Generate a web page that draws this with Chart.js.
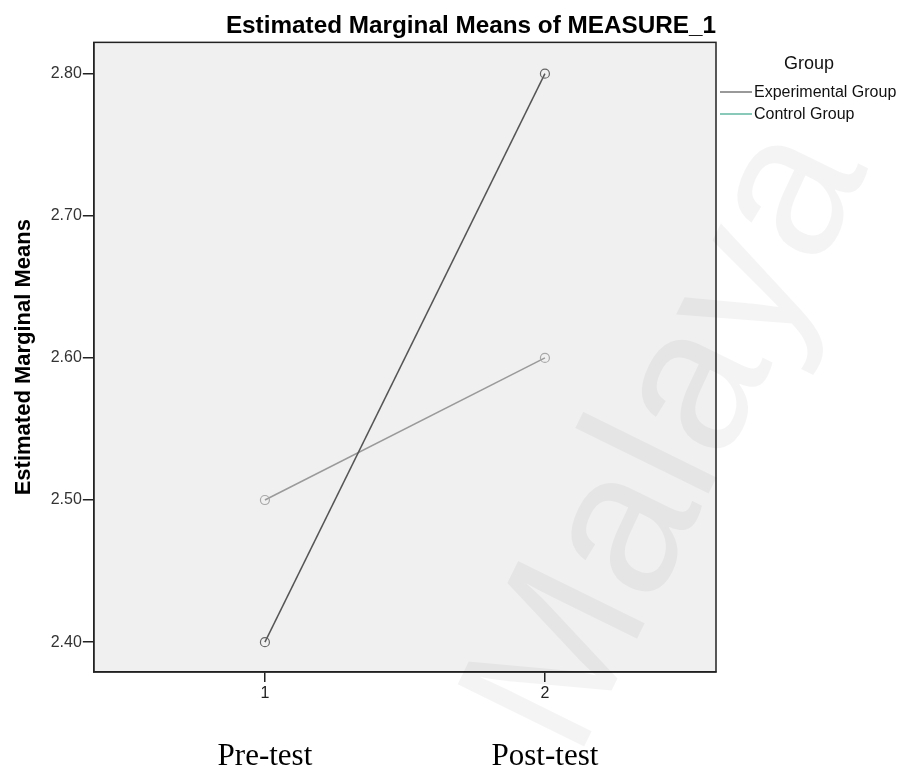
<!DOCTYPE html>
<html>
<head>
<meta charset="utf-8">
<script src="https://cdn.jsdelivr.net/npm/chart.js@4.4.1/dist/chart.umd.min.js"></script>
<style>
  html, body { margin: 0; padding: 0; background: #ffffff; }
  #c { display: block; }
</style>
</head>
<body>
<canvas id="c" width="905" height="774"></canvas>
<script>
// ---- data ----
const categories = [1, 2];
const xTickLabels = ['1', '2'];
const phaseLabels = ['Pre-test', 'Post-test'];
const yTicks = [2.40, 2.50, 2.60, 2.70, 2.80];
const seriesNames = ['Experimental Group', 'Control Group'];
const experimental = [2.40, 2.80];
const control = [2.50, 2.60];
const chartTitle = 'Estimated Marginal Means of MEASURE_1';
const yAxisTitle = 'Estimated Marginal Means';
const legendTitle = 'Group';
const watermark = 'Malaya';

const legendColors = ['#555555', '#3aa58a'];

const frame = {
  id: 'frame',
  beforeDraw(chart) {
    const { ctx, chartArea: a } = chart;
    ctx.save();
    ctx.fillStyle = '#ffffff';
    ctx.fillRect(0, 0, chart.width, chart.height);
    ctx.fillStyle = '#f0f0f0';
    ctx.fillRect(a.left, a.top, a.right - a.left, a.bottom - a.top);
    ctx.restore();
  },
  afterDraw(chart) {
    const { ctx, chartArea: a } = chart;
    ctx.save();
    ctx.strokeStyle = '#222';
    ctx.lineWidth = 1.5;
    ctx.strokeRect(a.left, a.top, a.right - a.left, a.bottom - a.top);
    // legend
    const lx = a.right + 4;
    ctx.fillStyle = '#111';
    ctx.textBaseline = 'middle';
    ctx.textAlign = 'center';
    ctx.font = '18px "Liberation Sans", Arial, sans-serif';
    ctx.fillText(legendTitle, 809, 64);
    ctx.textAlign = 'left';
    ctx.font = '16px "Liberation Sans", Arial, sans-serif';
    chart.data.datasets.forEach((ds, i) => {
      const y = 92 + i * 22;
      ctx.strokeStyle = legendColors[i];
      ctx.lineWidth = 1.2;
      ctx.beginPath();
      ctx.moveTo(lx, y);
      ctx.lineTo(lx + 32, y);
      ctx.stroke();
      ctx.fillStyle = '#111';
      ctx.fillText(ds.label, lx + 34, y + 1);
    });
    // watermark
    ctx.translate(672, 440);
    ctx.rotate(-63.8 * Math.PI / 180);
    ctx.font = '205px "Liberation Sans", Arial, sans-serif';
    ctx.textAlign = 'center';
    ctx.fillStyle = 'rgba(0,0,0,0.045)';
    ctx.fillText(watermark, 0, 0);
    ctx.restore();
  }
};

const xMin = 0.389, xMax = 2.611;

new Chart(document.getElementById('c'), {
  type: 'line',
  data: {
    datasets: [
      {
        label: seriesNames[0],
        data: categories.map((x, i) => ({ x, y: experimental[i] })),
        borderColor: '#555555',
        borderWidth: 1.5,
        pointRadius: 4.5,
        pointBorderColor: '#666666',
        pointBackgroundColor: 'rgba(0,0,0,0)',
        pointBorderWidth: 1.2,
        fill: false,
        tension: 0
      },
      {
        label: seriesNames[1],
        data: categories.map((x, i) => ({ x, y: control[i] })),
        borderColor: '#9a9a9a',
        borderWidth: 1.5,
        pointRadius: 4.5,
        pointBorderColor: '#a8a8a8',
        pointBackgroundColor: 'rgba(0,0,0,0)',
        pointBorderWidth: 1.2,
        fill: false,
        tension: 0
      }
    ]
  },
  options: {
    responsive: false,
    animation: false,
    devicePixelRatio: 1,
    layout: { padding: { left: 10.5, right: 189, top: 0, bottom: -33 } },
    plugins: {
      legend: { display: false },
      tooltip: { enabled: false },
      title: {
        display: true,
        text: chartTitle,
        align: 'end',
        color: '#000',
        font: { family: '"Liberation Sans", Arial, sans-serif', size: 24.3, weight: 'bold' },
        padding: { top: 11.6, bottom: 1.6 }
      }
    },
    scales: {
      x: {
        type: 'linear',
        position: 'bottom',
        weight: 0,
        min: xMin, max: xMax,
        afterBuildTicks: (a) => { a.ticks = categories.map(v => ({ value: v })); },
        ticks: {
          callback: (v) => { const i = categories.indexOf(v); return i >= 0 ? xTickLabels[i] : ''; },
          font: { family: '"Liberation Sans", Arial, sans-serif', size: 16 },
          color: '#222',
          padding: 2.4,
          maxRotation: 0,
          autoSkip: false
        },
        grid: { drawOnChartArea: false, drawTicks: true, tickLength: 10, color: '#222', lineWidth: 1.5 },
        border: { display: true, color: '#222', width: 1.5 }
      },
      x2: {
        type: 'linear',
        position: 'bottom',
        weight: 1,
        min: xMin, max: xMax,
        afterBuildTicks: (a) => { a.ticks = categories.map(v => ({ value: v })); },
        ticks: {
          callback: (v) => { const i = categories.indexOf(v); return i >= 0 ? phaseLabels[i] : ''; },
          font: { family: '"Liberation Serif", "Times New Roman", serif', size: 31, lineHeight: 1 },
          color: '#000',
          padding: 35,
          maxRotation: 0,
          autoSkip: false
        },
        grid: { display: false, drawTicks: false },
        border: { display: false }
      },
      y: {
        min: 2.379, max: 2.822,
        afterBuildTicks: (a) => { a.ticks = yTicks.map(v => ({ value: v })); },
        ticks: {
          callback: (v) => Number(v).toFixed(2),
          font: { family: '"Liberation Sans", Arial, sans-serif', size: 16 },
          color: '#333',
          padding: 1
        },
        grid: { drawOnChartArea: false, drawTicks: true, tickLength: 11, color: '#222', lineWidth: 1.5 },
        border: { display: true, color: '#222', width: 1.5 },
        title: {
          display: true,
          text: yAxisTitle,
          color: '#000',
          font: { family: '"Liberation Sans", Arial, sans-serif', size: 22, weight: 'bold' },
          padding: { top: 0, bottom: 12.8 }
        }
      }
    }
  },
  plugins: [frame]
});
</script>
</body>
</html>
